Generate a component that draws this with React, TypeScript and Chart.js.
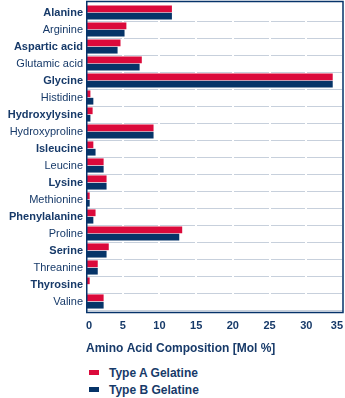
import React, { useEffect, useRef } from 'react';
import { Chart, registerables } from 'chart.js';

Chart.register(...registerables);

const categories = [
  'Alanine', 'Arginine', 'Aspartic acid', 'Glutamic acid', 'Glycine', 'Histidine',
  'Hydroxylysine', 'Hydroxyproline', 'Isleucine', 'Leucine', 'Lysine', 'Methionine',
  'Phenylalanine', 'Proline', 'Serine', 'Threanine', 'Thyrosine', 'Valine',
];
const typeA = [11.7, 5.5, 4.7, 7.6, 33.6, 0.6, 0.9, 9.2, 1.0, 2.4, 2.8, 0.5, 1.3, 13.1, 3.1, 1.6, 0.5, 2.4];
const typeB = [11.7, 5.25, 4.3, 7.3, 33.6, 1.0, 0.6, 9.2, 1.3, 2.4, 2.8, 0.5, 1.0, 12.7, 2.8, 1.6, 0, 2.4];
const seriesNames = ['Type A Gelatine', 'Type B Gelatine'];
const seriesColors = ['#db0a3b', '#063468'];
const xMin = 0;
const xMax = 35;
const xStep = 5;
const axisTitle = 'Amino Acid Composition [Mol %]';

const TEXT = '#173a69';
const GRID = '#c7d0dc';
const FONT = '"Liberation Sans", Arial, Helvetica, sans-serif';
const CANVAS_H = 360;

const framePlugin = {
  id: 'frame',
  afterDraw(chart: any) {
    const { ctx, chartArea: ca } = chart;
    ctx.save();
    ctx.strokeStyle = '#06336a';
    ctx.lineWidth = 1.5;
    ctx.strokeRect(ca.left + 0.75, ca.top - 2.5, ca.right - ca.left - 0.75, ca.bottom - ca.top + 5);
    ctx.restore();
  },
};

export default function App() {
  const ref = useRef<HTMLCanvasElement | null>(null);

  useEffect(() => {
    document.body.style.margin = '0';
    Chart.defaults.font.family = FONT;
    const chart = new Chart(ref.current as HTMLCanvasElement, {
      type: 'bar',
      data: {
        labels: categories,
        datasets: [
          { label: seriesNames[0], data: typeA, backgroundColor: seriesColors[0], borderWidth: 0 },
          { label: seriesNames[1], data: typeB, backgroundColor: seriesColors[1], borderWidth: 0 },
        ],
      },
      options: {
        indexAxis: 'y',
        animation: false,
        responsive: true,
        maintainAspectRatio: false,
        layout: { padding: { top: 4, right: 2, left: 0, bottom: 0 } },
        datasets: { bar: { categoryPercentage: 0.87, barPercentage: 0.91 } },
        plugins: {
          legend: { display: false },
          tooltip: { enabled: false },
        },
        scales: {
          x: {
            type: 'linear',
            min: xMin,
            max: xMax,
            position: 'bottom',
            ticks: {
              stepSize: xStep,
              color: TEXT,
              padding: 9,
              align: 'inner',
              font: { size: 11, weight: 'bold', family: FONT },
            },
            grid: { color: '#ffffff', lineWidth: 2, drawTicks: false, z: -1 },
            border: { display: false },
            title: {
              display: true,
              text: axisTitle,
              align: 'start',
              color: TEXT,
              font: { size: 12, weight: 'bold', family: FONT },
              padding: { top: 0, bottom: 4 },
            },
            afterFit: (s: any) => {
              s.height = 50;
              s.paddingLeft = 0;
              s.paddingRight = 0;
            },
          },
          y: {
            type: 'category',
            ticks: {
              color: TEXT,
              padding: 3,
              font: (c: any) => ({ size: 11, family: FONT, weight: c.index % 2 === 0 ? 'bold' : 'normal' }),
            },
            grid: {
              offset: true,
              drawTicks: false,
              z: -2,
              lineWidth: 1,
              color: (c: any) => (c.index === 0 || c.index >= categories.length ? 'rgba(0,0,0,0)' : GRID),
            },
            border: { display: false },
            afterFit: (s: any) => {
              s.width = 86;
              s.paddingTop = 0;
              s.paddingBottom = 0;
            },
          },
        },
      },
      plugins: [framePlugin],
    });
    return () => chart.destroy();
  }, []);

  return (
    <div style={{ position: 'absolute', left: 0, top: 0, width: 345, height: 398, background: '#fff' }}>
      <div style={{ position: 'absolute', left: 0, top: 0, width: 345, height: CANVAS_H }}>
        <canvas ref={ref} />
      </div>
      {seriesNames.map((name, i) => (
        <div
          key={name}
          style={{
            position: 'absolute',
            left: 89,
            top: 364 + i * 17.3,
            height: 17,
            display: 'flex',
            alignItems: 'center',
            fontFamily: FONT,
            fontWeight: 'bold',
            fontSize: 12,
            color: TEXT,
            whiteSpace: 'nowrap',
          }}
        >
          <span style={{ display: 'inline-block', width: 10, height: 5, background: seriesColors[i], marginRight: 10 }} />
          <span>{name}</span>
        </div>
      ))}
    </div>
  );
}
